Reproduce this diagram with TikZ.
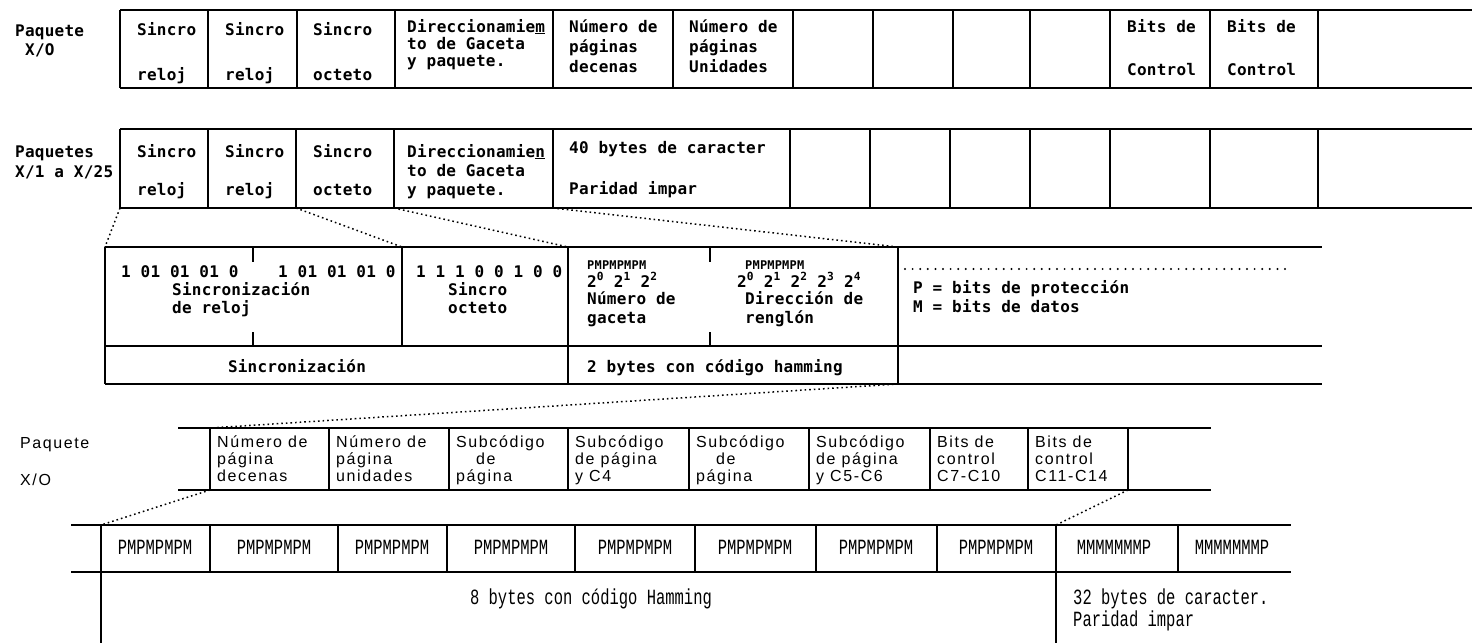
\documentclass[tikz,border=0pt]{standalone}
\usepackage{fontspec}
\usepackage{graphicx}
\setmainfont{Liberation Sans}
\newfontfamily\monob[LetterSpace=1.5]{DejaVu Sans Mono}
\newfontfamily\monoc{Liberation Mono}
\newfontfamily\sansls[LetterSpace=10]{Liberation Sans}
\tikzset{
  hl/.style={line width=1.3pt},
  vl/.style={line width=1.6pt},
  proj/.style={line width=1.5pt, dash pattern=on 1.6pt off 3pt},
  dotrow/.style={line width=2.2pt, line cap=round, dash pattern=on 0pt off 7.6pt},
  tm/.style={anchor=west, inner sep=0pt, text height=10pt, text depth=0pt, font=\monob\bfseries\fontsize{16}{18}\selectfont},
  tmc/.style={tm, anchor=center},
  tms/.style={tm, text height=8pt, font=\monob\bfseries\fontsize{12}{14}\selectfont},
  ts/.style={anchor=west, inner sep=0pt, text height=11pt, text depth=0pt, font=\sansls\fontsize{16}{18}\selectfont},
  tc/.style={anchor=center, inner sep=0pt, text height=12pt, text depth=0pt, font=\monoc\fontsize{15.5}{17}\selectfont},
  tcw/.style={tc, anchor=west}
}
\newcommand{\tall}[1]{\scalebox{1}[1.4]{#1}}
\begin{document}
\begin{tikzpicture}[x=1pt,y=-1pt]
\useasboundingbox (0,0) rectangle (1482,643);

% ---------------- Row 1 ----------------
\draw[hl] (120,10) -- (1472,10);
\draw[hl] (120,88) -- (1472,88);
\foreach \x in {120,208,297,395,553,673,793,873,953,1030,1110,1210,1318}
  \draw[vl] (\x,10) -- (\x,88);
\node[tm] (l1a) at (15,31) {Paquete};
\node[tm] (l1b) at (25,50) {X/O};
\node[tm] (a1) at (137,30) {Sincro};
\node[tm] (a2) at (137,75) {reloj};
\node[tm] (a3) at (225,30) {Sincro};
\node[tm] (a4) at (225,75) {reloj};
\node[tm] (a5) at (313,30) {Sincro};
\node[tm] (a6) at (313,75) {octeto};
\node[tm] (a7) at (407,27) {Direccionamie\underline{m}};
\node[tm] (a8) at (407,44) {to de Gaceta};
\node[tm] (a9) at (407,61) {y paquete.};
\node[tm] (a10) at (569,27) {Número de};
\node[tm] (a11) at (569,47) {páginas};
\node[tm] (a12) at (569,67) {decenas};
\node[tm] (a13) at (689,27) {Número de};
\node[tm] (a14) at (689,47) {páginas};
\node[tm] (a15) at (689,67) {Unidades};
\node[tm] (a16) at (1127,27) {Bits de};
\node[tm] (a17) at (1127,70) {Control};
\node[tm] (a18) at (1227,27) {Bits de};
\node[tm] (a19) at (1227,70) {Control};

% ---------------- Row 2 ----------------
\draw[hl] (120,129) -- (1472,129);
\draw[hl] (120,208) -- (1472,208);
\foreach \x in {120,208,296,394,553,790,870,950,1030,1110,1210,1318}
  \draw[vl] (\x,129) -- (\x,208);
\node[tm] (l2a) at (15,152) {Paquetes};
\node[tm] (l2b) at (15,172) {X/1 a X/25};
\node[tm] (b1) at (137,152) {Sincro};
\node[tm] (b2) at (137,190) {reloj};
\node[tm] (b3) at (225,152) {Sincro};
\node[tm] (b4) at (225,190) {reloj};
\node[tm] (b5) at (313,152) {Sincro};
\node[tm] (b6) at (313,190) {octeto};
\node[tm] (b7) at (407,152) {Direccionamie\underline{n}};
\node[tm] (b8) at (407,171) {to de Gaceta};
\node[tm] (b9) at (407,190) {y paquete.};
\node[tm] (b10) at (569,148) {40 bytes de caracter};
\node[tm] (b11) at (569,189) {Paridad impar};

% ---------------- Middle block ----------------
\draw[hl] (105,247) -- (1322,247);
\draw[hl] (105,346) -- (1322,346);
\draw[hl] (105,384) -- (1322,384);
\draw[vl] (105,247) -- (105,384);
\draw[vl] (402,247) -- (402,346);
\draw[vl] (568,247) -- (568,384);
\draw[vl] (898,247) -- (898,384);
\foreach \x in {253,710} {
  \draw[vl] (\x,247) -- (\x,262);
  \draw[vl] (\x,332) -- (\x,346);
}
\node[tm] (c1) at (121,272) {1 01 01 01 0};
\node[tm] (c2) at (278,272) {1 01 01 01 0};
\node[tm] (c3) at (172,290) {Sincronización};
\node[tm] (c4) at (172,308) {de reloj};
\node[tm] (c5) at (416,272) {1 1 1 0 0 1 0 0};
\node[tm] (c6) at (448,290) {Sincro};
\node[tm] (c7) at (448,308) {octeto};
\node[tmc] (c8) at (297,367) {Sincronización};
\node[tms] (c9) at (587,265) {PMPMPMPM};
\node[tm] (c10) at (587,282) {2\textsuperscript{0} 2\textsuperscript{1} 2\textsuperscript{2}};
\node[tm] (c11) at (587,299) {Número de};
\node[tm] (c12) at (587,318) {gaceta};
\node[tms] (c13) at (745,265) {PMPMPMPM};
\node[tm] (c14) at (737,282) {2\textsuperscript{0} 2\textsuperscript{1} 2\textsuperscript{2} 2\textsuperscript{3} 2\textsuperscript{4}};
\node[tm] (c15) at (745,299) {Dirección de};
\node[tm] (c16) at (745,318) {renglón};
\node[tm] (c17) at (587,367) {2 bytes con código hamming};
\coordinate (dr1) at (905,269);
\coordinate (dr2) at (1290,269);
\draw[dotrow] (dr1) -- (dr2);
\node[tm] (c18) at (913,288) {P = bits de protección};
\node[tm] (c19) at (913,307) {M = bits de datos};

% ---------------- Row 4 ----------------
\draw[hl] (178,428) -- (1211,428);
\draw[hl] (178,490) -- (1211,490);
\foreach \x in {210,329,449,568,689,809,930,1028,1128}
  \draw[vl] (\x,428) -- (\x,490);
\node[ts] (l4a) at (20,443) {Paquete};
\node[ts] (l4b) at (20,480) {X/O};
\node[ts] (d1) at (217,442) {Número de};
\node[ts] (d2) at (217,459) {página};
\node[ts] (d3) at (217,476) {decenas};
\node[ts] (d4) at (336,442) {Número de};
\node[ts] (d5) at (336,459) {página};
\node[ts] (d6) at (336,476) {unidades};
\node[ts] (d7) at (456,442) {Subcódigo};
\node[ts] (d8) at (476,459) {de};
\node[ts] (d9) at (456,476) {página};
\node[ts] (d10) at (575,442) {Subcódigo};
\node[ts] (d11) at (575,459) {de página};
\node[ts] (d12) at (575,476) {y C4};
\node[ts] (d13) at (696,442) {Subcódigo};
\node[ts] (d14) at (716,459) {de};
\node[ts] (d15) at (696,476) {página};
\node[ts] (d16) at (816,442) {Subcódigo};
\node[ts] (d17) at (816,459) {de página};
\node[ts] (d18) at (816,476) {y C5-C6};
\node[ts] (d19) at (937,442) {Bits de};
\node[ts] (d20) at (937,459) {control};
\node[ts] (d21) at (937,476) {C7-C10};
\node[ts] (d22) at (1035,442) {Bits de};
\node[ts] (d23) at (1035,459) {control};
\node[ts] (d24) at (1035,476) {C11-C14};

% ---------------- Row 5 ----------------
\draw[hl] (71,525) -- (1291,525);
\draw[hl] (71,572) -- (1291,572);
\draw[vl] (101,525) -- (101,643);
\draw[vl] (1056,525) -- (1056,643);
\foreach \x in {210,338,447,575,695,816,937,1178}
  \draw[vl] (\x,525) -- (\x,572);
\node[tc] (e1) at (155,548) {\tall{PMPMPMPM}};
\node[tc] (e2) at (274,548) {\tall{PMPMPMPM}};
\node[tc] (e3) at (392,548) {\tall{PMPMPMPM}};
\node[tc] (e4) at (511,548) {\tall{PMPMPMPM}};
\node[tc] (e5) at (635,548) {\tall{PMPMPMPM}};
\node[tc] (e6) at (755,548) {\tall{PMPMPMPM}};
\node[tc] (e7) at (876,548) {\tall{PMPMPMPM}};
\node[tc] (e8) at (996,548) {\tall{PMPMPMPM}};
\node[tc] (e9) at (1114,548) {\tall{MMMMMMMP}};
\node[tc] (e10) at (1232,548) {\tall{MMMMMMMP}};
\node[tc] (e11) at (591,598) {\tall{8 bytes con código Hamming}};
\node[tcw] (e12) at (1073,598) {\tall{32 bytes de caracter.}};
\node[tcw] (e13) at (1073,620) {\tall{Paridad impar}};

% ---------------- Projection connectors ----------------
\coordinate (r2a) at (120,208);
\coordinate (m1) at (105,247);
\coordinate (r2b) at (296,208);
\coordinate (m2) at (402,247);
\coordinate (r2c) at (394,208);
\coordinate (m3) at (568,247);
\coordinate (r2d) at (553,208);
\coordinate (m4) at (898,247);
\coordinate (m5) at (898,384);
\coordinate (r4a) at (210,428);
\coordinate (r4b) at (210,490);
\coordinate (r5a) at (101,525);
\coordinate (r4c) at (1128,490);
\coordinate (r5b) at (1056,525);
\draw[proj] (r2a) -- (m1);
\draw[proj] (r2b) -- (m2);
\draw[proj] (r2c) -- (m3);
\draw[proj] (r2d) -- (m4);
\draw[proj] (m5) -- (r4a);
\draw[proj] (r4b) -- (r5a);
\draw[proj] (r4c) -- (r5b);
\end{tikzpicture}
\end{document}
